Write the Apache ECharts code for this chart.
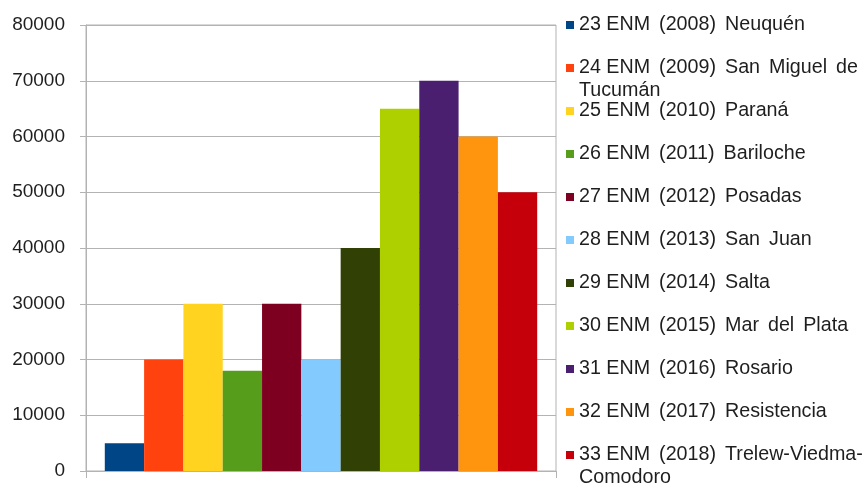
<!DOCTYPE html>
<html>
<head>
<meta charset="utf-8">
<script src="https://cdn.jsdelivr.net/npm/echarts@6/dist/echarts.min.js"></script>
<style>
  html, body { margin: 0; padding: 0; background: #ffffff; }
  #chart { width: 868px; height: 484px; }
</style>
</head>
<body>
<div id="chart"></div>
<script>
// Encuentros Nacionales de Mujeres: asistencia por edición
const editions = [
  '23 ENM (2008) Neuquén',
  '24 ENM (2009) San Miguel de\nTucumán',
  '25 ENM (2010) Paraná',
  '26 ENM (2011) Bariloche',
  '27 ENM (2012) Posadas',
  '28 ENM (2013) San Juan',
  '29 ENM (2014) Salta',
  '30 ENM (2015) Mar del Plata',
  '31 ENM (2016) Rosario',
  '32 ENM (2017) Resistencia',
  '33 ENM (2018) Trelew-Viedma-\nComodoro'
];
const attendance = [5000, 20000, 30000, 18000, 30000, 20000, 40000, 65000, 70000, 60000, 50000];
const palette = ['#004586', '#ff420e', '#ffd320', '#579d1c', '#7e0021', '#83caff',
                 '#314004', '#aecf00', '#4b1f6f', '#ff950e', '#c5000b'];
const yTicks = { min: 0, max: 80000, interval: 10000 };

const FONT = "'Liberation Sans', Arial, sans-serif";
const GRAY = '#b3b3b3';
const TEXT = '#1e1e1e';

const chart = echarts.init(document.getElementById('chart'), null, { renderer: 'canvas' });

// the edition number keeps a normal space; the remaining words are
// set with a slightly wider gap, like the justified legend text
const spreadWords = (line, lineIdx) => {
  const words = line.split(' ');
  if (lineIdx === 0 && words.length > 1) {
    words.splice(0, 2, words[0] + ' ' + words[1]);
  }
  return words.map(w => '{t|' + w + '}').join('{s| }');
};

// one legend block per entry so every row keeps the same pitch,
// even when its label wraps onto a second line
const legendRowStart = 24;
const legendRowStep = 43;
const legends = editions.map((name, i) => ({
  data: [name],
  orient: 'vertical',
  left: 566,
  top: legendRowStart + i * legendRowStep - 9,
  padding: 0,
  icon: 'rect',
  itemWidth: 8,
  itemHeight: 8,
  selectedMode: false,
  formatter: n => n.split('\n').map(spreadWords).join('\n'),
  textStyle: {
    height: 23,
    rich: {
      t: { fontFamily: FONT, fontSize: 19.7, lineHeight: 23, color: TEXT },
      s: { fontFamily: FONT, fontSize: 19.7, lineHeight: 23, width: 9 }
    }
  }
}));

const series = editions.map((name, i) => ({
  name: name,
  type: 'bar',
  data: [attendance[i]],
  barGap: '0%',
  barCategoryGap: '8%',
  itemStyle: { color: palette[i] }
}));

chart.setOption({
  animation: false,
  backgroundColor: '#ffffff',
  legend: legends,
  grid: {
    left: 86, right: 312, top: 25, bottom: 13,
    show: true, borderColor: GRAY, borderWidth: 1
  },
  xAxis: {
    type: 'category',
    data: [''],
    axisLine: { show: true, lineStyle: { color: GRAY, width: 1 } },
    axisTick: { show: true, length: 7, lineStyle: { color: GRAY } },
    axisLabel: { show: false },
    splitLine: { show: false }
  },
  yAxis: {
    type: 'value',
    min: yTicks.min,
    max: yTicks.max,
    interval: yTicks.interval,
    axisLine: { show: true, lineStyle: { color: GRAY, width: 1 } },
    axisTick: { show: true, length: 6, lineStyle: { color: GRAY } },
    axisLabel: {
      margin: 21, fontFamily: FONT, fontSize: 19, color: TEXT,
      formatter: v => String(v)
    },
    splitLine: { show: true, lineStyle: { color: GRAY, width: 1 } }
  },
  series: series
});
</script>
</body>
</html>
